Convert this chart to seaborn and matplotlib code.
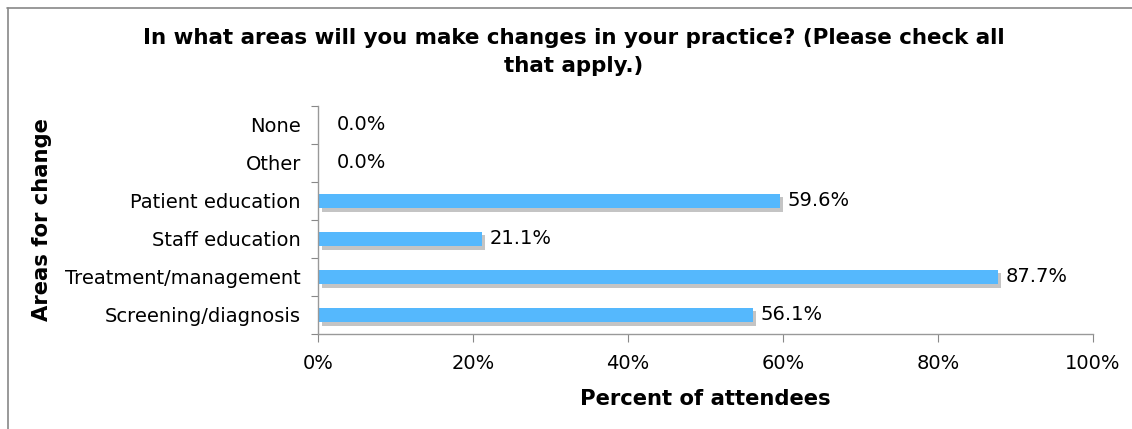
import matplotlib
matplotlib.use("Agg")
import matplotlib.pyplot as plt
import matplotlib.transforms as mtransforms
from matplotlib.lines import Line2D
import seaborn as sns
import pandas as pd

categories = ["None", "Other", "Patient education", "Staff education",
              "Treatment/management", "Screening/diagnosis"]
values = [0.0, 0.0, 59.6, 21.1, 87.7, 56.1]
xticks = [0, 20, 40, 60, 80, 100]
xtick_labels = ["0%", "20%", "40%", "60%", "80%", "100%"]
title = "In what areas will you make changes in your practice? (Please check all\nthat apply.)"
xlabel = "Percent of attendees"
ylabel = "Areas for change"

sns.set_theme(style="white")
plt.rcParams['font.family'] = ['DejaVu Sans']
plt.rcParams['text.color'] = 'black'
plt.rcParams['axes.labelcolor'] = 'black'

df = pd.DataFrame({"cat": categories, "val": values})

W, H, DPI = 1132, 429, 100
fig = plt.figure(figsize=(W / DPI, H / DPI), dpi=DPI)
ax = fig.add_axes([318 / W, 1 - 334 / H, (1093 - 318) / W, (334 - 106) / H])

# shadow bars
sns.barplot(data=df, x="val", y="cat", order=categories, orient="h",
            color="#c4c4c4", saturation=1, width=0.39, ax=ax, zorder=1)
n_shadow = len(ax.patches)
off = mtransforms.ScaledTranslation(3.5 / DPI, -3.5 / DPI, fig.dpi_scale_trans)
for p in ax.patches[:n_shadow]:
    p.set_transform(ax.transData + off)
    p.set_linewidth(0)
# main bars
sns.barplot(data=df, x="val", y="cat", order=categories, orient="h",
            color="#55b8fd", saturation=1, width=0.39, ax=ax, zorder=2)
for p in ax.patches[n_shadow:]:
    p.set_linewidth(0)

ax.set_xlim(0, 100)
ax.set_ylim(len(categories) - 0.5, -0.5)

FS = 14.0
for i, v in enumerate(values):
    dx = 8 if v > 0 else 19
    ax.annotate(f"{v:.1f}%", xy=(v, i), xytext=(dx * 72 / DPI, 0),
                textcoords="offset points", va="center", ha="left",
                fontsize=FS, color="black")

ax.set_xticks(xticks)
ax.set_xticklabels(xtick_labels, fontsize=FS, color="black")
ax.tick_params(axis="x", length=6, width=0.8, color="#888888",
               pad=12 * 72 / DPI, direction="out", bottom=True)
ax.set_yticks(range(len(categories)))
ax.set_yticklabels(categories, fontsize=FS, color="black")
ax.tick_params(axis="y", length=0, pad=17 * 72 / DPI, left=True)
ax.set_yticks([i - 0.5 for i in range(len(categories) + 1)], minor=True)
ax.tick_params(axis="y", which="minor", length=5, width=0.8,
               color="#888888", direction="out", left=True)

for s in ["top", "right"]:
    ax.spines[s].set_visible(False)
for s in ["left", "bottom"]:
    ax.spines[s].set_color("#999999")
    ax.spines[s].set_linewidth(1.0)

ax.set_xlabel(xlabel, fontsize=15.2, fontweight="bold", color="black")
ax.set_ylabel(ylabel, fontsize=15.2, fontweight="bold", color="black")
ax.xaxis.set_label_coords((705 - 318) / (1093 - 318), -(399 - 334) / (334 - 106))
ax.xaxis.label.set_va("center")
ax.yaxis.set_label_coords(-(318 - 42) / (1093 - 318), (334 - 220) / (334 - 106))
ax.yaxis.label.set_va("center")

fig.text(574 / W, 1 - 52 / H, title, ha="center", va="center",
         fontsize=15.4, fontweight="bold", linespacing=1.55, color="black")

# outer frame (left and top edges)
fig.add_artist(Line2D([7.5 / W, 7.5 / W], [0, 1 - 8 / H], transform=fig.transFigure,
                      color="#888888", linewidth=1.2))
fig.add_artist(Line2D([7 / W, 1], [1 - 8 / H, 1 - 8 / H], transform=fig.transFigure,
                      color="#888888", linewidth=1.2))

fig.savefig("out.png", dpi=DPI, facecolor="white")
